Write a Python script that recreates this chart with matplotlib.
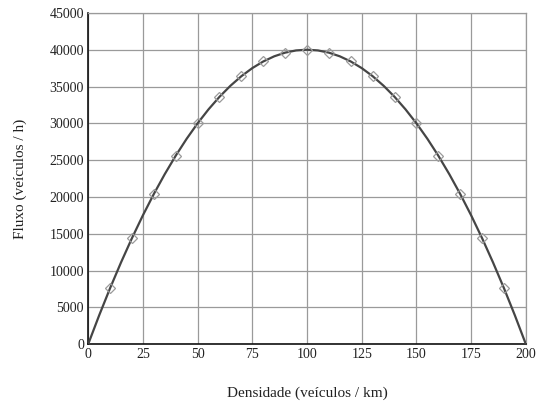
import matplotlib
matplotlib.use("Agg")
import matplotlib.pyplot as plt

# curve (densidade, fluxo)
curve_k = [0, 5, 10, 15, 20, 25, 30, 35, 40, 45, 50, 55, 60, 65, 70, 75, 80, 85, 90, 95,
           100, 105, 110, 115, 120, 125, 130, 135, 140, 145, 150, 155, 160, 165, 170, 175,
           180, 185, 190, 195, 200]
curve_q = [0, 3900, 7600, 11100, 14400, 17500, 20400, 23100, 25600, 27900, 30000, 31900,
           33600, 35100, 36400, 37500, 38400, 39100, 39600, 39900,
           40000, 39900, 39600, 39100, 38400, 37500, 36400, 35100, 33600, 31900, 30000,
           27900, 25600, 23100, 20400, 17500, 14400, 11100, 7600, 3900, 0]

# observed points (diamonds)
obs_k = [10, 20, 30, 40, 50, 60, 70, 80, 90, 100, 110, 120, 130, 140, 150, 160, 170, 180, 190]
obs_q = [7600, 14400, 20400, 25600, 30000, 33600, 36400, 38400, 39600, 40000,
         39600, 38400, 36400, 33600, 30000, 25600, 20400, 14400, 7600]

x_ticks = [0, 25, 50, 75, 100, 125, 150, 175, 200]
y_ticks = [0, 5000, 10000, 15000, 20000, 25000, 30000, 35000, 40000, 45000]

plt.rcParams['font.family'] = ['Liberation Serif', 'DejaVu Serif']

fig = plt.figure(figsize=(5.41, 4.03), dpi=100)
ax = fig.add_axes([0.163, 0.146, 0.809, 0.822])

ax.plot(curve_k, curve_q, color='#454545', linewidth=1.6, zorder=3)
ax.plot(obs_k, obs_q, linestyle='none', marker='D', markersize=5.5,
        markerfacecolor='none', markeredgecolor='#9a9a9a', markeredgewidth=0.9, zorder=4)

ax.set_xlim(0, 200)
ax.set_ylim(0, 45000)
ax.set_xticks(x_ticks)
ax.set_yticks(y_ticks)
ax.grid(True, color='#9a9a9a', linewidth=0.9)
ax.set_axisbelow(True)
ax.tick_params(length=0, pad=3, labelsize=10, colors='#222222')

for side in ['top', 'right']:
    ax.spines[side].set_color('#9a9a9a')
    ax.spines[side].set_linewidth(0.9)
for side in ['left', 'bottom']:
    ax.spines[side].set_color('#111111')
    ax.spines[side].set_linewidth(1.2)

ax.set_xlabel('Densidade (veículos / km)', fontsize=11, labelpad=18, color='#222222')
ax.set_ylabel('Fluxo (veículos / h)', fontsize=11, labelpad=16, color='#222222')

fig.savefig('out.png', dpi=100)
